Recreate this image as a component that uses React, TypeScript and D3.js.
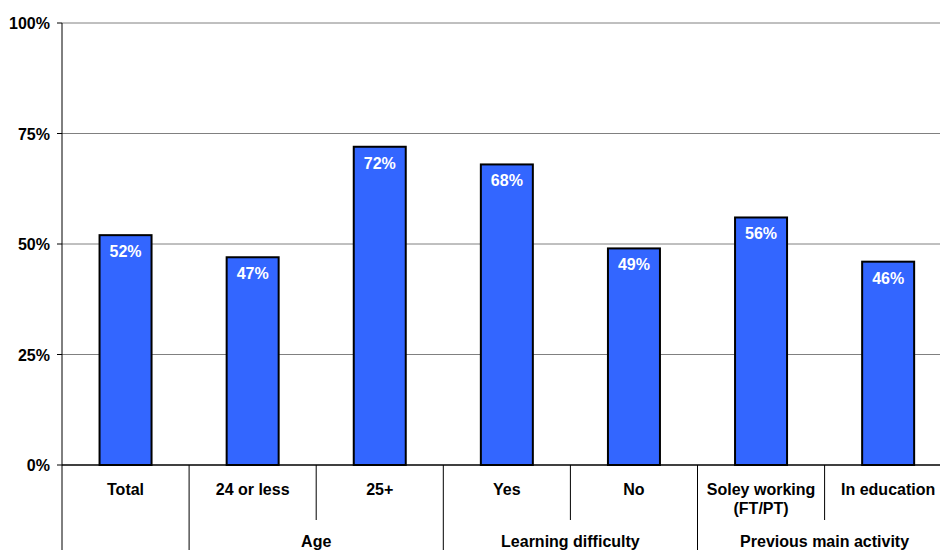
import React from "react";
import * as d3 from "d3";

// Share of respondents by group
const categories = ["Total", "24 or less", "25+", "Yes", "No", "Soley working\n(FT/PT)", "In education"];
const values = [52, 47, 72, 68, 49, 56, 46];
const groups = [
  { name: "Age", start: 1, end: 3 },
  { name: "Learning difficulty", start: 3, end: 5 },
  { name: "Previous main activity", start: 5, end: 7 },
];
const yTicks = [0, 25, 50, 75, 100];

const W = 940;
const H = 550;
const left = 62;
const bandW = 127.1;
const top = 23;
const bottom = 465;
const font = "'Liberation Sans', Arial, sans-serif";
const fs = 16;

export default function App() {
  const x = d3.scaleBand<number>()
    .domain(d3.range(categories.length))
    .range([left, left + bandW * categories.length])
    .paddingInner(0)
    .paddingOuter(0);
  const y = d3.scaleLinear().domain([0, 100]).range([bottom, top]);
  const barW = 52;

  return (
    <svg width={W} height={H} style={{ position: "absolute", left: 0, top: 0 }} fontFamily={font}>
      <rect width={W} height={H} fill="#fff" />
      {/* gridlines */}
      {yTicks.filter((t) => t > 0).map((t) => (
        <line key={t} x1={left} x2={W} y1={y(t)} y2={y(t)} stroke="#808080" strokeWidth={1} />
      ))}
      {/* y tick labels and tick marks */}
      {yTicks.map((t) => (
        <g key={t}>
          <line x1={left - 5} x2={left} y1={y(t)} y2={y(t)} stroke="#000" strokeWidth={1} />
          <text x={50} y={y(t) + 6} textAnchor="end" fontSize={fs} fontWeight="bold" fill="#000">
            {t}%
          </text>
        </g>
      ))}
      {/* bars */}
      {values.map((v, i) => {
        const cx = (x(i) as number) + x.bandwidth() / 2;
        return (
          <g key={i}>
            <rect x={cx - barW / 2} y={y(v)} width={barW} height={bottom - y(v)} fill="#3366FF" stroke="#000" strokeWidth={2} />
            <text x={cx} y={y(v) + 22} textAnchor="middle" fontSize={fs} fontWeight="bold" fill="#fff">
              {v}%
            </text>
          </g>
        );
      })}
      {/* axes */}
      <line x1={left} x2={left} y1={top} y2={H} stroke="#000" strokeWidth={1} />
      <line x1={left} x2={W} y1={bottom} y2={bottom} stroke="#000" strokeWidth={1.5} />
      {/* category separators */}
      {d3.range(1, categories.length).map((i) => {
        const isGroupEdge = groups.some((g) => g.start === i);
        return (
          <line key={i} x1={x(i) as number} x2={x(i) as number} y1={bottom} y2={isGroupEdge ? H : 520} stroke="#000" strokeWidth={1} />
        );
      })}
      {/* category labels */}
      {categories.map((c, i) => {
        const cx = (x(i) as number) + x.bandwidth() / 2;
        const lines = c.split("\n");
        return (
          <text key={i} x={cx} y={495} textAnchor="middle" fontSize={fs} fontWeight="bold" fill="#000">
            {lines.map((l, j) => (
              <tspan key={j} x={cx} dy={j === 0 ? 0 : 19}>{l}</tspan>
            ))}
          </text>
        );
      })}
      {/* group labels */}
      {groups.map((g) => {
        const cx = ((x(g.start) as number) + (x(g.end - 1) as number) + x.bandwidth()) / 2;
        return (
          <text key={g.name} x={cx} y={547} textAnchor="middle" fontSize={fs} fontWeight="bold" fill="#000">
            {g.name}
          </text>
        );
      })}
    </svg>
  );
}
